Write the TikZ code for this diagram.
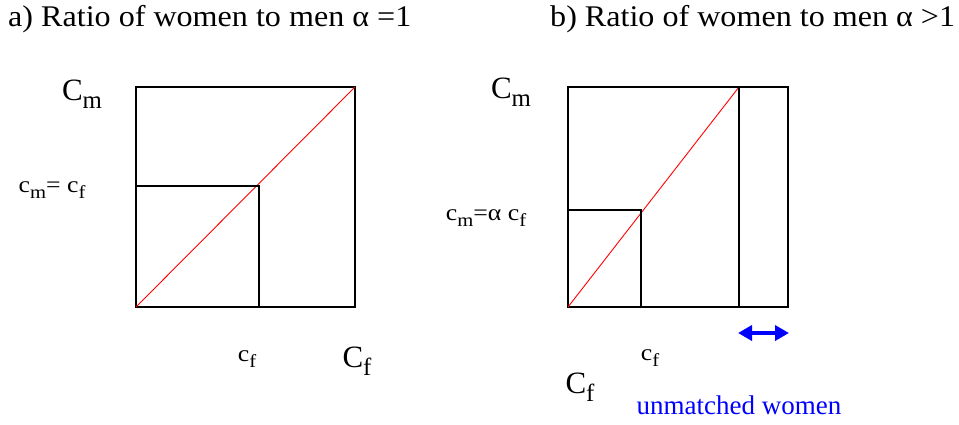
\documentclass[tikz,border=0pt]{standalone}
\usepackage{fontspec}
\setmainfont{Liberation Serif}
\usetikzlibrary{arrows.meta}
\newcommand{\sbs}[1]{\raisebox{-0.25em}{\scalebox{0.8}{#1}}}
\begin{document}
\begin{tikzpicture}[x=1pt,y=-1pt,
  frame/.style={draw=black,line width=1.4pt},
  diag/.style={draw=red,line width=0.9pt},
  guide/.style={draw=black,line width=1.2pt},
  title/.style={anchor=west,inner sep=0pt,font=\fontsize{30}{34}\selectfont},
  lab/.style={inner sep=0pt,font=\fontsize{31}{34}\selectfont},
  slab/.style={inner sep=0pt,font=\fontsize{23}{26}\selectfont},
  blue lab/.style={inner sep=0pt,font=\fontsize{27}{30}\selectfont,text=blue}]
\useasboundingbox (0,0) rectangle (959,424);
% titles
\node[title] (ta) at (8,19) {\scalebox{1.07}[1]{a) Ratio of women to men α =1}};
\node[title] (tb) at (550,19) {\scalebox{1.07}[1]{b) Ratio of women to men α >1}};
% left panel
\coordinate (a0) at (136,307);
\coordinate (a1) at (355,87);
\coordinate (ap) at (259,186);
\coordinate (apx) at (259,307);
\coordinate (apy) at (136,186);
\draw[frame] (a0) rectangle (a1);
\draw[diag] (a0) -- (a1);
\draw[guide] (apy) -- (ap) -- (apx);
\node[lab] (acm) at (82,94) {C\sbs{m}};
\node[slab] (aeq) at (52,190) {\scalebox{1.12}[1]{c\sbs{m}= c\sbs{f}}};
\node[slab] (acf) at (247,359) {\scalebox{1.12}[1]{c\sbs{f}}};
\node[lab] (aCf) at (357,361) {C\sbs{f}};
% right panel
\coordinate (b0) at (568,307);
\coordinate (b1) at (788,87);
\coordinate (btop) at (739,87);
\coordinate (bbot) at (739,307);
\coordinate (bp) at (641,210);
\coordinate (bpx) at (641,307);
\coordinate (bpy) at (568,210);
\draw[frame] (b0) rectangle (b1);
\draw[diag] (b0) -- (btop);
\draw[guide] (bpy) -- (bp) -- (bpx);
\draw[guide,densely dotted,line width=1.8pt] (btop) -- (bbot);
\draw[guide] (btop) -- (bbot);
\coordinate (ua) at (738,333);
\coordinate (ub) at (789,333);
\draw[blue,line width=3.5pt,{Triangle[length=14pt,width=15pt]}-{Triangle[length=14pt,width=15pt]}] (ua) -- (ub);
\node[lab] (bcm) at (511,92) {C\sbs{m}};
\node[slab] (beq) at (486,218) {\scalebox{1.12}[1]{c\sbs{m}=α c\sbs{f}}};
\node[slab] (bcf) at (650,358) {\scalebox{1.12}[1]{c\sbs{f}}};
\node[lab] (bCf) at (580,387) {C\sbs{f}};
\node[blue lab] (um) at (739,405) {unmatched women};
\end{tikzpicture}
\end{document}
